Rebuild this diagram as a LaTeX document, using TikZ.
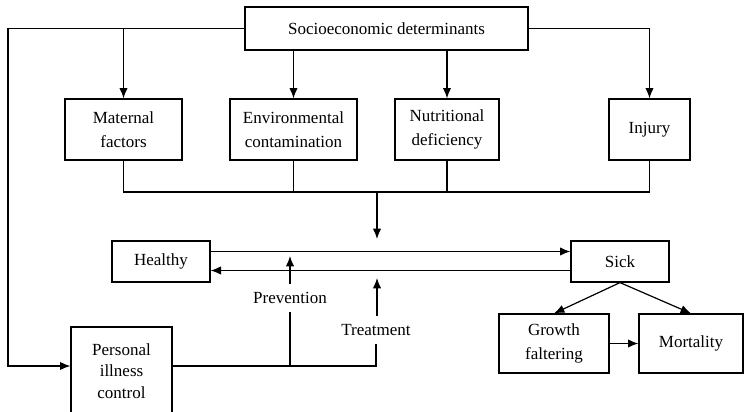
\documentclass[tikz,border=0pt]{standalone}
\usepackage{fontspec}
\setmainfont{Liberation Serif}
\usepackage{tikz}
\usetikzlibrary{positioning}
\usetikzlibrary{%
  calc,%
  arrows.meta%
}
\tikzset{box/.style={draw, line width=0.6pt, align=center, inner sep=0pt},
         lbl/.style={inner sep=4pt}}

\begin{document}
\begin{tikzpicture}[x=0.5pt,y=-0.5pt,>={Latex[length=5.2pt,width=4.2pt]},line width=0.6pt,
  font=\fontsize{8.5}{12}\selectfont]
\useasboundingbox (0,0) rectangle (744,412);

\node[box, minimum width=141.5pt, minimum height=21.5pt] (soc) at (386.5,28.5) {Socioeconomic determinants};

\node[box, minimum width=58.5pt, minimum height=30.5pt] (mat) at (123.5,129.5) {Maternal\\factors};
\node[box, minimum width=63.5pt, minimum height=30.5pt] (env) at (293.5,129.5) {Environmental\\contamination};
\node[box, minimum width=52pt, minimum height=30.5pt] (nut) at (447,129.5) {Nutritional\\deficiency};
\node[box, minimum width=40.5pt, minimum height=30.5pt] (inj) at (649.5,129.5) {Injury};

\node[box, minimum width=49pt, minimum height=20.5pt] (hea) at (161,261.5) {Healthy};
\node[box, minimum width=49pt, minimum height=20.5pt] (sic) at (620,261.5) {Sick};

\node[box, minimum width=55pt, minimum height=29.5pt] (gro) at (554,343.5) {Growth\\faltering};
\node[box, minimum width=52pt, minimum height=29.5pt] (mor) at (691,343.5) {Mortality};

\node[box, minimum width=50.5pt, minimum height=44pt, font=\fontsize{8.5}{10.8}\selectfont] (pic) at (121.5,371) {Personal\\illness\\control};

\node[lbl] (prv) at (290,298) {Prevention};
\node[lbl] (trt) at (376,330) {Treatment};

\coordinate (lft) at (8,366);
\coordinate (bus) at (377,192);
\coordinate (busend) at (377,239);
\coordinate (prvtip) at (290,256);
\coordinate (trttip) at (377,278);

\draw[->] (soc.west) -| (mat.north);
\draw[->] (soc.west) -| (lft) -- (lft -| pic.west);
\draw[->] (soc.east) -| (inj.north);
\path [->] (soc.south -| env.north) edge (env.north)
           (soc.south -| nut.north) edge (nut.north);

\draw (mat.south) |- (inj.south |- bus) -- (inj.south);
\draw (env.south) -- (env.south |- bus);
\draw (nut.south) -- (nut.south |- bus);
\draw[->] (bus) -- (busend);

\draw[->] ($(hea.east)+(0,-10)$) -- ($(sic.west)+(0,-10)$);
\draw[->] ($(sic.west)+(0,9)$) -- ($(hea.east)+(0,9)$);

\draw (lft -| pic.east) -| (trt.south);
\draw (prv.south) -- (prv.south |- lft);
\path [->] (prv.north) edge (prvtip)
           (trt.north -| trttip) edge (trttip);

\path [->] (sic.south) edge (gro.north)
           (sic.south) edge (mor.north)
           (gro.east) edge (mor.west);
\end{tikzpicture}
\end{document}
